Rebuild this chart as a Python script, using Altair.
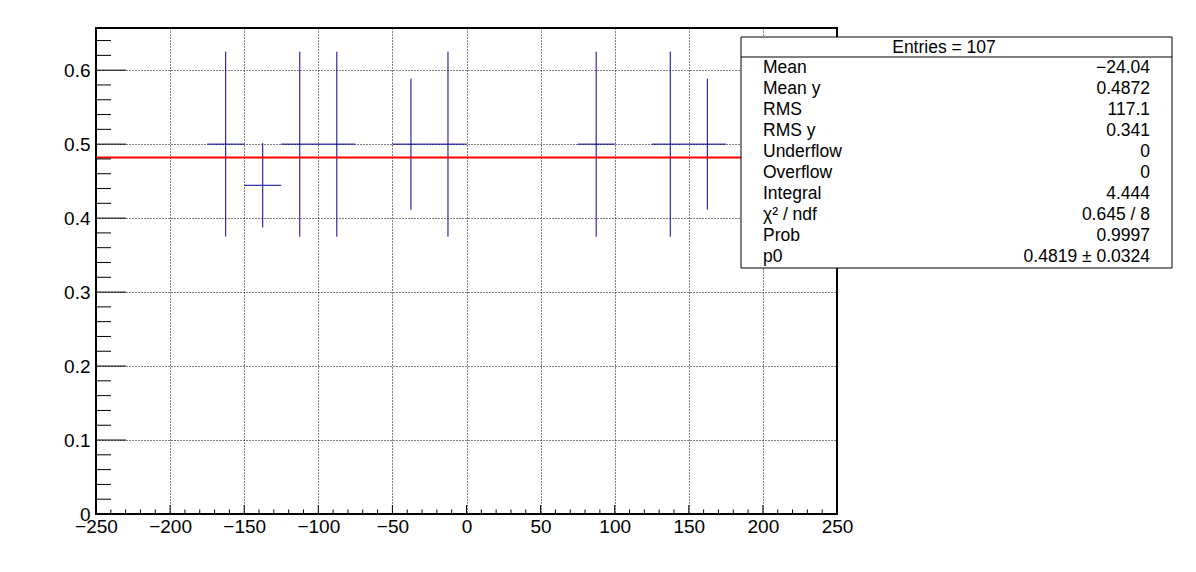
import altair as alt
import pandas as pd

# ---------------- data ----------------
bin_centers = [-162.5, -137.5, -112.5, -87.5, -37.5, -12.5, 87.5, 137.5, 162.5]
bin_means = [0.5, 0.4444, 0.5, 0.5, 0.5, 0.5, 0.5, 0.5, 0.5]
bin_errors = [0.125, 0.057, 0.125, 0.125, 0.0885, 0.125, 0.125, 0.125, 0.0885]
bin_half_widths = [12.5, 12.5, 12.5, 12.5, 12.5, 12.5, 12.5, 12.5, 12.5]

fit_p0 = [0.4819]
fit_range = [-250, 250]

x_domain = [-250, 250]
y_domain = [0, 0.657]
x_major = [-250, -200, -150, -100, -50, 0, 50, 100, 150, 200, 250]
x_minor = [v for v in range(-250, 251, 10) if v % 50 != 0]
y_major = [0, 0.1, 0.2, 0.3, 0.4, 0.5, 0.6]
y_minor = [round(i * 0.02, 2) for i in range(0, 33) if i % 5 != 0]

stats_header = "Entries = 107"
stats_labels = ["Mean", "Mean y", "RMS", "RMS y", "Underflow", "Overflow",
                "Integral", "\u03c7\u00b2 / ndf", "Prob", "p0"]
stats_values = ["\u221224.04", "0.4872", "117.1", "0.341", "0", "0",
                "4.444", "0.645 / 8", "0.9997", "0.4819 \u00b1 0.0324"]

# ---------------- layout / style ----------------
FONT = "Liberation Sans"
W, H = 741, 486
BLUE = "#000099"

df = pd.DataFrame({
    "xc": bin_centers,
    "y": bin_means,
    "lo": [c - h for c, h in zip(bin_centers, bin_half_widths)],
    "hi": [c + h for c, h in zip(bin_centers, bin_half_widths)],
    "ylo": [m - e for m, e in zip(bin_means, bin_errors)],
    "yhi": [m + e for m, e in zip(bin_means, bin_errors)],
})
fit_df = pd.DataFrame({"a": [fit_range[0]], "b": [fit_range[1]], "p0": fit_p0})

xscale = alt.Scale(domain=x_domain, nice=False, zero=False)
yscale = alt.Scale(domain=y_domain, nice=False, zero=False)

x_axis = alt.Axis(values=x_major, format="d", grid=True, gridColor="black",
                  gridDash=[1, 2], gridWidth=1, gridOpacity=1, ticks=False,
                  tickSize=0, domain=False, labelFont=FONT, labelFontSize=19,
                  labelColor="black", labelPadding=3, labelFlush=False,
                  labelOverlap=False, title=None)
y_axis = alt.Axis(values=y_major, format=".1~f", grid=True, gridColor="black",
                  gridDash=[1, 2], gridWidth=1, gridOpacity=1, ticks=False,
                  tickSize=0, domain=False, labelFont=FONT, labelFontSize=19,
                  labelColor="black", labelPadding=6, labelOverlap=False,
                  title=None)


def X(f):
    return alt.X(f, type="quantitative", scale=xscale, axis=x_axis, title=None)


def Y(f):
    return alt.Y(f, type="quantitative", scale=yscale, axis=y_axis, title=None)


base = alt.Chart(df)

hbars = base.mark_rule(color=BLUE, strokeWidth=1).encode(
    x=X("lo"), x2="hi", y=Y("y"))
vbars = base.mark_rule(color=BLUE, strokeWidth=1).encode(
    x=X("xc"), y=Y("ylo"), y2="yhi")

fit = alt.Chart(fit_df).mark_rule(color="#ff0000", strokeWidth=2).encode(
    x=X("a"), x2="b", y=Y("p0"))

one = pd.DataFrame({"k": [0]})

frame = alt.Chart(one).mark_rect(fillOpacity=0, stroke="black", strokeWidth=2).encode(
    x=alt.value(0), x2=alt.value(W), y=alt.value(0), y2=alt.value(H))

xt_major = alt.Chart(pd.DataFrame({"v": x_major})).mark_rule(color="black", strokeWidth=1).encode(
    x=X("v"), y=alt.value(H), y2=alt.value(H - 9))
xt_minor = alt.Chart(pd.DataFrame({"v": x_minor})).mark_rule(color="black", strokeWidth=1).encode(
    x=X("v"), y=alt.value(H), y2=alt.value(H - 4.5))
yt_major = alt.Chart(pd.DataFrame({"v": y_major})).mark_rule(color="black", strokeWidth=1).encode(
    y=Y("v"), x=alt.value(0), x2=alt.value(30))
yt_minor = alt.Chart(pd.DataFrame({"v": y_minor})).mark_rule(color="black", strokeWidth=1).encode(
    y=Y("v"), x=alt.value(0), x2=alt.value(15))

# stats box (pixel positions relative to the plot area)
BX0, BX1, BY0, BY1, BSEP = 645, 1076, 9, 240, 29
ROW_H = (BY1 - BSEP) / len(stats_labels)
box = alt.Chart(one).mark_rect(fill="white", stroke="black", strokeWidth=1).encode(
    x=alt.value(BX0), x2=alt.value(BX1), y=alt.value(BY0), y2=alt.value(BY1))
sep = alt.Chart(one).mark_rule(color="black", strokeWidth=1).encode(
    x=alt.value(BX0), x2=alt.value(BX1), y=alt.value(BSEP))
header = alt.Chart(one).mark_text(font=FONT, fontSize=17.5, color="black",
                                  align="center", baseline="middle").encode(
    text=alt.value(stats_header), x=alt.value(848), y=alt.value((BY0 + BSEP) / 2 + 1))
first_row_y = BSEP + ROW_H / 2
lab_text = alt.Chart(one).mark_text(font=FONT, fontSize=17.5, color="black",
                                    align="left", baseline="middle",
                                    lineBreak="\n", lineHeight=ROW_H).encode(
    text=alt.value("\n".join(stats_labels)), x=alt.value(667), y=alt.value(first_row_y))
val_text = alt.Chart(one).mark_text(font=FONT, fontSize=17.5, color="black",
                                    align="right", baseline="middle",
                                    lineBreak="\n", lineHeight=ROW_H).encode(
    text=alt.value("\n".join(stats_values)), x=alt.value(1054), y=alt.value(first_row_y))

chart = alt.layer(
    hbars, vbars, fit, xt_minor, xt_major, yt_minor, yt_major, frame,
    box, sep, header, lab_text, val_text
).properties(
    width=W, height=H,
    padding={"left": 88, "top": 20, "right": 351, "bottom": 40},
    autosize=alt.AutoSizeParams(type="none"),
    background="white",
).configure_view(stroke=None)

chart.save("out.html", embed_options={"renderer": "svg", "actions": False})
